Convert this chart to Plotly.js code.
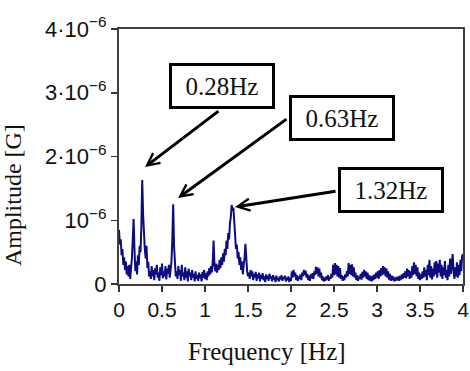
<!DOCTYPE html>
<html><head><meta charset="utf-8">
<script src="https://cdn.plot.ly/plotly-3.0.1.min.js"></script>
<style>html,body{margin:0;padding:0;background:#fff}#chart{width:470px;height:371px}</style>
</head><body><div id="chart"></div>
<script>
// Frequency grid step (Hz) and amplitude values (units of 1e-6 G), one per 0.01 Hz from 0 to 4 Hz
const freqStep = 0.01;
const amp_0_0p5 = [0.85,0.62,0.70,0.45,0.55,0.30,0.42,0.22,0.35,0.15,0.28,0.12,0.30,0.08,0.25,0.40,0.70,1.02,0.55,0.20,0.35,0.15,0.45,0.30,0.60,0.50,0.90,1.63,1.10,0.75,0.55,0.40,0.60,0.25,0.35,0.12,0.20,0.08,0.28,0.12,0.22,0.06,0.25,0.15,0.30,0.10,0.18,0.05,0.26,0.14,0.32];
const amp_0p5_1 = [0.09,0.20,0.12,0.28,0.07,0.24,0.16,0.30,0.10,0.22,0.35,0.70,1.25,0.60,0.25,0.12,0.20,0.08,0.28,0.14,0.22,0.05,0.30,0.12,0.18,0.06,0.26,0.10,0.20,0.04,0.24,0.12,0.18,0.06,0.22,0.10,0.16,0.04,0.20,0.08,0.14,0.05,0.18,0.09,0.15,0.04,0.19,0.10,0.22,0.08];
const amp_1_1p5 = [0.17,0.06,0.20,0.12,0.25,0.15,0.28,0.18,0.35,0.68,0.30,0.20,0.32,0.18,0.30,0.22,0.38,0.25,0.42,0.30,0.48,0.35,0.55,0.45,0.68,0.55,0.80,0.70,0.95,1.05,1.24,1.15,1.20,0.90,0.75,0.55,0.62,0.40,0.50,0.30,0.42,0.22,0.35,0.15,0.30,0.40,0.63,0.35,0.20,0.12];
const amp_1p5_2 = [0.18,0.08,0.22,0.12,0.20,0.06,0.16,0.10,0.19,0.05,0.15,0.09,0.18,0.04,0.14,0.08,0.17,0.06,0.12,0.03,0.15,0.08,0.13,0.05,0.16,0.09,0.12,0.04,0.14,0.07,0.11,0.03,0.13,0.06,0.10,0.04,0.12,0.07,0.14,0.05,0.11,0.08,0.13,0.04,0.10,0.06,0.12,0.03,0.09,0.05];
const amp_2_2p5 = [0.20,0.10,0.22,0.12,0.18,0.06,0.14,0.05,0.12,0.08,0.15,0.06,0.18,0.12,0.22,0.14,0.21,0.10,0.16,0.06,0.13,0.05,0.15,0.09,0.17,0.08,0.20,0.14,0.27,0.16,0.26,0.12,0.24,0.10,0.18,0.06,0.12,0.04,0.10,0.05,0.12,0.07,0.14,0.05,0.11,0.08,0.16,0.10,0.30,0.14];
const amp_2p5_3 = [0.33,0.15,0.30,0.12,0.28,0.10,0.25,0.08,0.14,0.05,0.12,0.06,0.15,0.10,0.20,0.12,0.33,0.16,0.30,0.14,0.31,0.12,0.26,0.10,0.18,0.06,0.14,0.05,0.12,0.08,0.16,0.07,0.19,0.10,0.22,0.12,0.20,0.08,0.18,0.06,0.14,0.05,0.12,0.04,0.13,0.06,0.15,0.08,0.18,0.10];
const amp_3_3p5 = [0.20,0.08,0.22,0.12,0.25,0.14,0.28,0.15,0.26,0.12,0.24,0.10,0.20,0.07,0.16,0.05,0.13,0.06,0.12,0.04,0.10,0.05,0.11,0.06,0.12,0.05,0.13,0.07,0.15,0.08,0.17,0.10,0.20,0.09,0.24,0.12,0.22,0.08,0.20,0.10,0.28,0.14,0.34,0.16,0.30,0.12,0.26,0.08,0.18,0.06];
const amp_3p5_4 = [0.15,0.08,0.20,0.10,0.26,0.12,0.22,0.06,0.30,0.14,0.38,0.10,0.28,0.07,0.24,0.12,0.34,0.15,0.36,0.10,0.32,0.18,0.38,0.12,0.30,0.08,0.26,0.14,0.36,0.10,0.22,0.06,0.30,0.12,0.40,0.16,0.35,0.47,0.20,0.08,0.26,0.12,0.34,0.10,0.30,0.14,0.38,0.20,0.44,0.47];

const amplitude = [].concat(amp_0_0p5, amp_0p5_1, amp_1_1p5, amp_1p5_2, amp_2_2p5, amp_2p5_3, amp_3_3p5, amp_3p5_4);
const frequency = amplitude.map((_, i) => +(i * freqStep).toFixed(2));

const xTickVals = [0,0.5,1,1.5,2,2.5,3,3.5,4];
const xTickText = ['0','0.5','1','1.5','2','2.5','3','3.5','4'];
const yTickVals = [0,1,2,3,4];
const yTickText = ['0','10<sup>−6</sup>','2·10<sup>−6</sup>','3·10<sup>−6</sup>','4·10<sup>−6</sup>'];

const peakLabels = ['0.28Hz','0.63Hz','1.32Hz'];

const serif = 'Liberation Serif, Times New Roman, serif';
const sans = 'Liberation Sans, Arial, sans-serif';

const trace = {
  x: frequency, y: amplitude, type: 'scatter', mode: 'lines',
  line: {color: '#0c0c80', width: 2}, hoverinfo: 'skip'
};

function arrow(x, y, ax, ay) {
  return {xref:'x', yref:'y', x:x, y:y, ax:ax, ay:ay, text:'', showarrow:true,
    arrowhead:5, arrowsize:0.8, arrowwidth:3, arrowcolor:'#000', standoff:0, startstandoff:0};
}
function box(x, y, t) {
  return {xref:'x', yref:'y', x:x, y:y, text:t, showarrow:false,
    font:{family:serif, size:25, color:'#111'}, bgcolor:'#fff', bordercolor:'#000',
    borderwidth:3, borderpad:0, width:100, height:40, align:'center', valign:'middle'};
}

const layout = {
  width: 470, height: 371,
  margin: {l:119, r:7, t:29, b:87},
  paper_bgcolor: '#fff', plot_bgcolor: '#fff',
  showlegend: false,
  xaxis: {range:[0,4], tickvals:xTickVals, ticktext:xTickText, ticks:'outside', ticklen:6, tickwidth:1.5, tickcolor:'#333',
    showline:true, linecolor:'#404040', linewidth:2, mirror:true, showgrid:false, zeroline:false,
    tickfont:{family:sans, size:21, color:'#111'}, fixedrange:true},
  yaxis: {range:[0,4], tickvals:yTickVals, ticktext:yTickText, ticks:'outside', ticklen:6, tickwidth:1.5, tickcolor:'#333',
    showline:true, linecolor:'#404040', linewidth:2, mirror:true, showgrid:false, zeroline:false,
    tickfont:{family:sans, size:22, color:'#111'}, fixedrange:true},
  annotations: [
    {xref:'paper', yref:'paper', x:0.43, y:-0.265, xanchor:'center', yanchor:'middle', text:'Frequency [Hz]', showarrow:false,
      font:{family:serif, size:25, color:'#111'}},
    {xref:'paper', yref:'paper', x:-0.31, y:0.35, xanchor:'center', yanchor:'middle', text:'Amplitude [G]', showarrow:false, textangle:-90,
      font:{family:serif, size:24, color:'#111'}},
    arrow(0.302, 1.835, 75, -57),
    arrow(0.686, 1.349, 110, -80),
    arrow(1.349, 1.208, 102, -16),
    box(1.198, 3.106, peakLabels[0]),
    box(2.593, 2.604, peakLabels[1]),
    box(3.157, 1.467, peakLabels[2])
  ]
};

Plotly.newPlot('chart', [trace], layout, {staticPlot:true, displayModeBar:false});
</script>
</body></html>
